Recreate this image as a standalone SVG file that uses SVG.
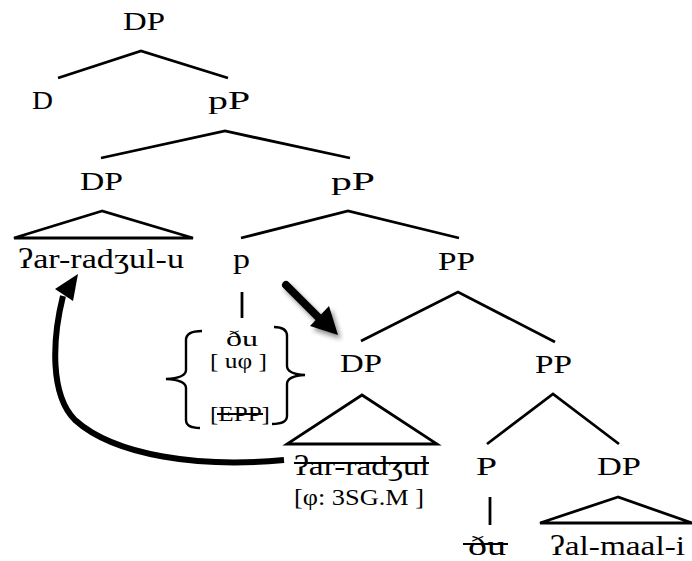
<svg xmlns="http://www.w3.org/2000/svg" width="692" height="561" viewBox="0 0 692 561">
<style>
text{font-family:"Liberation Serif","DejaVu Serif","Times New Roman",serif;fill:#000}
.lb{font-size:25px}
.ipa{font-size:27px}
.sm{font-size:21px}
.ln{stroke:#000;stroke-width:2.8;fill:none;stroke-linecap:butt;stroke-linejoin:miter}
.st{stroke:#000;stroke-width:2;fill:none}
.br{stroke:#000;stroke-width:2.4;fill:none}
</style>
<defs>
<filter id="shadow" x="-30%" y="-30%" width="160%" height="160%">
<feGaussianBlur in="SourceAlpha" stdDeviation="2.5"/>
<feOffset dx="3" dy="4" result="b"/>
<feComponentTransfer><feFuncA type="linear" slope="0.45"/></feComponentTransfer>
<feMerge><feMergeNode/><feMergeNode in="SourceGraphic"/></feMerge>
</filter>
</defs>
<rect width="692" height="561" fill="#fff"/>

<g id="connectors">
<polyline class="ln" points="58,78 141,51 228,78"/>
<polyline class="ln" points="101,158 225,131 350,158"/>
<polygon class="ln" points="102,211 14,238 193,238"/>
<polyline class="ln" points="241,238 348,211 459,238"/>
<line class="ln" x1="242" y1="292" x2="242" y2="318"/>
<polyline class="ln" points="361,341 458,292 555,342"/>
<polygon class="ln" points="362,395 287,444 437,444"/>
<polyline class="ln" points="487,444 553,394 619,444"/>
<line class="ln" x1="490" y1="497" x2="490" y2="525"/>
<polygon class="ln" points="618,497 540,523 692,523"/>
<g id="move-arrow">
<path d="M284,460 C200,468 115,456 75,420 C50,395 52,340 63,296" stroke="#000" stroke-width="6" fill="none"/>
<polygon points="78,274 55,289 73,301" fill="#000"/>
</g>
<g id="agree-arrow" filter="url(#shadow)">
<line x1="286" y1="285" x2="320" y2="319" stroke="#000" stroke-width="8" stroke-linecap="round"/>
<polygon points="338,335 310,326 329,306" fill="#000"/>
</g>
</g>

<g id="n-DP-root"><text class="lb" x="123" y="30" textLength="42" lengthAdjust="spacingAndGlyphs">DP</text></g>
<g id="n-D"><text class="lb" x="32" y="109" textLength="21" lengthAdjust="spacingAndGlyphs">D</text></g>
<g id="n-pP1"><text class="lb" x="208" y="109" textLength="42" lengthAdjust="spacingAndGlyphs">pP</text></g>
<g id="n-DP-spec"><text class="lb" x="80" y="190" textLength="43" lengthAdjust="spacingAndGlyphs">DP</text></g>
<g id="n-pP2"><text class="lb" x="331" y="190" textLength="44" lengthAdjust="spacingAndGlyphs">pP</text></g>
<g id="n-arradjulu"><text class="ipa" x="18" y="268" textLength="166" lengthAdjust="spacingAndGlyphs">ʔar-radʒul-u</text></g>
<g id="n-p"><text class="ipa" x="233" y="268" textLength="17" lengthAdjust="spacingAndGlyphs">p</text></g>
<g id="n-PP1"><text class="lb" x="438" y="270" textLength="37" lengthAdjust="spacingAndGlyphs">PP</text></g>
<g id="n-features">
<path class="br" d="M202,331 Q186,331 186,340 L186,370 Q186,378 166,379 Q186,380 186,388 L186,420 Q186,428 200,428"/>
<path class="br" d="M274,327 Q287,327 287,336 L287,366 Q287,374 305,375 Q287,376 287,384 L287,416 Q287,424 272,424"/>
<text class="sm" x="226" y="346" textLength="32" lengthAdjust="spacingAndGlyphs" style="font-size:22px">ðu</text>
<text class="sm" x="210" y="368" textLength="57" lengthAdjust="spacingAndGlyphs" style="font-size:20px">[ uφ ]</text>
<text class="sm" x="210" y="421" textLength="60" lengthAdjust="spacingAndGlyphs">[EPP]</text>
<line class="st" x1="217" y1="414" x2="263" y2="414"/>
</g>
<g id="n-DP-low"><text class="lb" x="340" y="372" textLength="42" lengthAdjust="spacingAndGlyphs">DP</text></g>
<g id="n-PP2"><text class="lb" x="535" y="373" textLength="37" lengthAdjust="spacingAndGlyphs">PP</text></g>
<g id="n-arradjul">
<text class="ipa" x="294" y="475" textLength="135" lengthAdjust="spacingAndGlyphs">ʔar-radʒul</text>
<line class="st" x1="294" y1="463" x2="429" y2="463"/>
<text class="sm" x="294" y="505" textLength="130" lengthAdjust="spacingAndGlyphs" style="font-size:23px">[φ: 3SG.M ]</text>
</g>
<g id="n-P"><text class="lb" x="476" y="475" textLength="21" lengthAdjust="spacingAndGlyphs">P</text></g>
<g id="n-DP-comp"><text class="lb" x="597" y="475" textLength="44" lengthAdjust="spacingAndGlyphs">DP</text></g>
<g id="n-du">
<text class="ipa" x="468" y="555" textLength="38" lengthAdjust="spacingAndGlyphs" style="font-size:28px">ðu</text>
<line class="st" x1="463" y1="544" x2="508" y2="544"/>
</g>
<g id="n-almaali"><text class="ipa" x="550" y="555" textLength="135" lengthAdjust="spacingAndGlyphs">ʔal-maal-i</text></g>
</svg>
